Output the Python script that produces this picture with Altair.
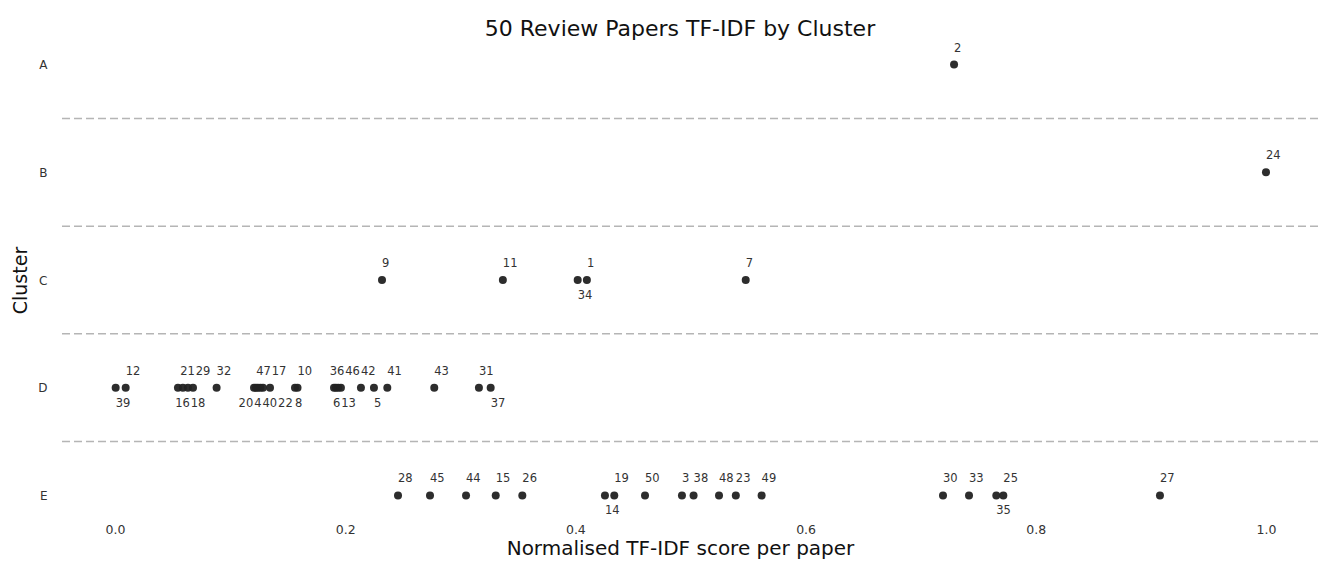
import altair as alt
import pandas as pd

# ---------------- data ----------------
clusters = ["A", "B", "C", "D", "E"]

ids_A = [2]
scores_A = [0.729]

ids_B = [24]
scores_B = [1.0]

ids_C = [9, 11, 34, 1, 7]
scores_C = [0.232, 0.337, 0.402, 0.410, 0.548]

ids_D = [39, 12, 16, 21, 18, 29, 32, 20, 4, 47, 40, 22, 17, 8, 10,
         36, 6, 13, 46, 42, 5, 41, 43, 31, 37]
scores_D = [0.0006, 0.0093, 0.0547, 0.059, 0.0634, 0.0678, 0.0883, 0.1208,
            0.1225, 0.1242, 0.1264, 0.1286, 0.1347, 0.1564, 0.1586, 0.1903,
            0.192, 0.194, 0.1963, 0.2137, 0.225, 0.2366, 0.2774, 0.3162, 0.3264]

ids_E = [28, 45, 44, 15, 26, 14, 19, 50, 3, 38, 48, 23, 49, 30, 33, 35, 25, 27]
scores_E = [0.2459, 0.2737, 0.305, 0.3308, 0.3539, 0.4257, 0.4338, 0.4605,
            0.4926, 0.5027, 0.5248, 0.5394, 0.5618, 0.7194, 0.742, 0.7657,
            0.7718, 0.9079]

labels_below = [34, 39, 16, 18, 20, 4, 40, 22, 8, 6, 13, 5, 37, 14, 35]

x_ticks = [0.0, 0.2, 0.4, 0.6, 0.8, 1.0]

# ---------------- layout ----------------
W, H = 1260, 474
X0 = -0.0495
PPU = 1151.0                      # pixels per score unit
X1 = X0 + W / PPU
Y_DOMAIN = [-0.2, len(clusters) - 1 + 0.2]

groups = {"A": (ids_A, scores_A), "B": (ids_B, scores_B), "C": (ids_C, scores_C),
          "D": (ids_D, scores_D), "E": (ids_E, scores_E)}

rows = []
for ci, c in enumerate(clusters):
    ids, scores = groups[c]
    for pid, s in zip(ids, scores):
        rows.append({"cluster": c, "row": ci, "id": pid, "score": s,
                     "side": "below" if pid in labels_below else "above"})
df = pd.DataFrame(rows)

# simple label repel (like adjustText) along x, per row and side
CHAR_W = 7.3
GAP = 1.0
df["lx"] = df["score"]
for (c, side), g in df.groupby(["cluster", "side"]):
    g = g.sort_values("score")
    pos = [v * PPU for v in g["score"]]
    wid = [len(str(i)) * CHAR_W for i in g["id"]]
    for _ in range(300):
        moved = False
        for i in range(len(pos) - 1):
            ov = pos[i] + wid[i] + GAP - pos[i + 1]
            if ov > 0.01:
                pos[i] -= ov / 2
                pos[i + 1] += ov / 2
                moved = True
        if not moved:
            break
    df.loc[g.index, "lx"] = [p / PPU for p in pos]

bounds = pd.DataFrame({"b": [i + 0.5 for i in range(len(clusters) - 1)]})

xscale = alt.Scale(domain=[X0, X1], nice=False, zero=False)
yscale = alt.Scale(domain=Y_DOMAIN, reverse=True, nice=False, zero=False)

label_expr = "[" + ",".join("'%s'" % c for c in clusters) + "][datum.value]"

x_axis = alt.Axis(values=x_ticks, format=".1f", ticks=False, domain=False, grid=False,
                  labelFontSize=12.5, labelColor="#333", labelPadding=6,
                  title="Normalised TF-IDF score per paper", titleFontSize=20,
                  titleFontWeight="normal", titleColor="#111", titlePadding=3,
                  titleX=622)
y_axis = alt.Axis(values=list(range(len(clusters))), labelExpr=label_expr,
                  ticks=False, domain=False, grid=False, labelFontSize=12,
                  labelColor="#333", labelPadding=11, title="Cluster",
                  titleFontSize=19, titleFontWeight="normal", titleColor="#111",
                  titlePadding=7)

rules = alt.Chart(bounds).mark_rule(color="#b5b5b5", strokeDash=[8, 4], strokeWidth=1.5).encode(
    y=alt.Y("b:Q", scale=yscale, axis=y_axis)
)

points = alt.Chart(df).mark_circle(size=64, color="#222", opacity=0.95).encode(
    x=alt.X("score:Q", scale=xscale, axis=x_axis),
    y=alt.Y("row:Q", scale=yscale, axis=y_axis),
)

above = alt.Chart(df).transform_filter(alt.datum.side == "above").mark_text(
    align="left", baseline="middle", dy=-16, fontSize=11.5, color="#333"
).encode(x=alt.X("lx:Q", scale=xscale, axis=x_axis),
         y=alt.Y("row:Q", scale=yscale, axis=y_axis), text="id:N")

below = alt.Chart(df).transform_filter(alt.datum.side == "below").mark_text(
    align="left", baseline="middle", dy=16, fontSize=11.5, color="#333"
).encode(x=alt.X("lx:Q", scale=xscale, axis=x_axis),
         y=alt.Y("row:Q", scale=yscale, axis=y_axis), text="id:N")

chart = alt.layer(rules, points, above, below).properties(
    width=W, height=H,
    title=alt.TitleParams("50 Review Papers TF-IDF by Cluster", fontSize=22,
                          fontWeight="normal", color="#111", anchor="middle",
                          offset=2, dx=-8),
    autosize=alt.AutoSizeParams(type="none"),
    padding={"left": 50, "top": 35, "right": 0, "bottom": 42},
).configure(font="DejaVu Sans").configure_view(stroke=None)

chart.save("out.html", embed_options={"renderer": "svg", "actions": False})
